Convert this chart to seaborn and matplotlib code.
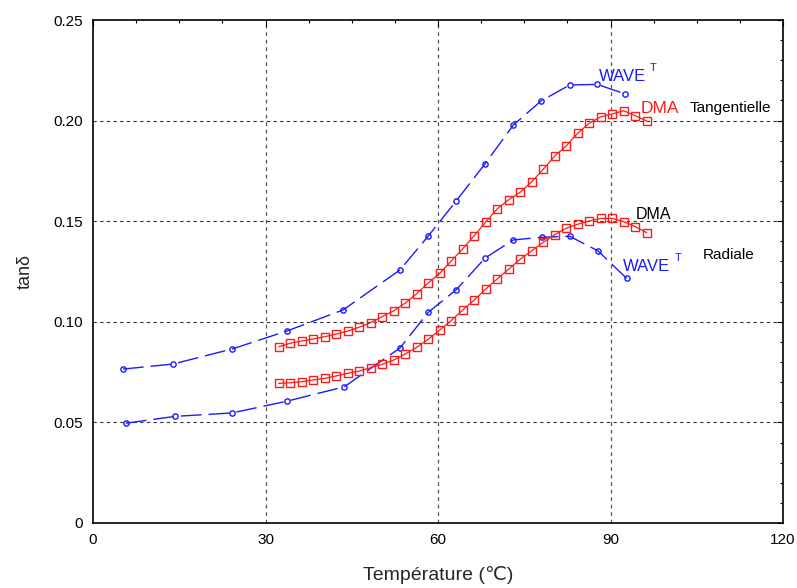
import numpy as np
import pandas as pd
import matplotlib
matplotlib.use("Agg")
import matplotlib.pyplot as plt
from matplotlib.ticker import MultipleLocator
import seaborn as sns

sns.set_theme(style="white")
plt.rcParams["font.family"] = ["Liberation Sans", "DejaVu Sans"]

# ------------------------------------------------------------
# data
# ------------------------------------------------------------
wave_tan_T = [5.2, 13.9, 24.2, 33.7, 43.5, 53.4, 58.3, 63.2, 68.2, 73.1, 77.9, 82.9, 87.7, 92.6]
wave_tan = [0.0765, 0.0790, 0.0865, 0.0954, 0.1059, 0.1258, 0.1426, 0.1602, 0.1786, 0.1978,
            0.2097, 0.2177, 0.2180, 0.2132]

wave_rad_T = [5.7, 14.3, 24.2, 33.8, 43.7, 53.4, 58.3, 63.2, 68.2, 73.1, 78.0, 82.9, 87.8, 92.8]
wave_rad = [0.0496, 0.0530, 0.0547, 0.0606, 0.0677, 0.0870, 0.1047, 0.1160, 0.1317, 0.1407,
            0.1420, 0.1425, 0.1353, 0.1216]

dma_T = [32.3, 34.3, 36.3, 38.3, 40.3, 42.3, 44.3, 46.3, 48.3, 50.3, 52.3, 54.3, 56.3, 58.3,
         60.3, 62.3, 64.3, 66.3, 68.3, 70.3, 72.3, 74.3, 76.3, 78.3, 80.3, 82.3, 84.3, 86.3,
         88.3, 90.3, 92.3, 94.3, 96.3]
dma_tan = [0.0876, 0.0893, 0.0905, 0.0915, 0.0926, 0.0939, 0.0954, 0.0973, 0.0996, 0.1026,
           0.1054, 0.1093, 0.1140, 0.1193, 0.1241, 0.1302, 0.1363, 0.1428, 0.1496, 0.1561,
           0.1607, 0.1644, 0.1696, 0.1758, 0.1824, 0.1874, 0.1937, 0.1987, 0.2019, 0.2033,
           0.2049, 0.2024, 0.1998]
dma_rad = [0.0694, 0.0697, 0.0702, 0.0711, 0.0719, 0.0731, 0.0744, 0.0755, 0.0772, 0.0789,
           0.0810, 0.0840, 0.0873, 0.0913, 0.0959, 0.1006, 0.1059, 0.1108, 0.1163, 0.1213,
           0.1262, 0.1311, 0.1353, 0.1395, 0.1433, 0.1465, 0.1485, 0.1501, 0.1514, 0.1514,
           0.1498, 0.1473, 0.1443]

x_ticks = [0, 30, 60, 90, 120]
y_ticks = [0, 0.05, 0.10, 0.15, 0.20, 0.25]
y_ticklabels = ["0", "0.05", "0.10", "0.15", "0.20", "0.25"]

BLUE = "#1a1aff"
RED = "#ff1a1a"

# ------------------------------------------------------------
# plot
# ------------------------------------------------------------
fig = plt.figure(figsize=(7.97, 5.88), dpi=100)
ax = fig.add_axes([93 / 797, 65 / 588, 690 / 797, 503 / 588])

# grid first so it stays under the curves
for xv in x_ticks[1:-1]:
    ax.axvline(xv, color="#555555", lw=0.9, ls=(0, (3, 3)), zorder=0)
for yv in y_ticks[1:-1]:
    ax.axhline(yv, color="#333333", lw=0.8, ls=(0, (3, 3)), zorder=0)

blue_kw = dict(color=BLUE, lw=1.0, linestyle=(0, (15, 5)), marker="o", markersize=3.8,
               markerfacecolor="none", markeredgecolor=BLUE, markeredgewidth=1.0)
red_kw = dict(color=RED, lw=0.9, marker="s", markersize=5.5,
              markerfacecolor="none", markeredgecolor=RED, markeredgewidth=1.0)

sns.lineplot(x=wave_tan_T, y=wave_tan, ax=ax, sort=False, **blue_kw)
sns.lineplot(x=wave_rad_T, y=wave_rad, ax=ax, sort=False, **blue_kw)
sns.lineplot(x=dma_T, y=dma_tan, ax=ax, sort=False, **red_kw)
sns.lineplot(x=dma_T, y=dma_rad, ax=ax, sort=False, **red_kw)

# labels next to the curves
ax.text(88.0, 0.2218, "WAVE", color=BLUE, fontsize=12, ha="left", va="center")
ax.text(96.8, 0.2262, "T", color=BLUE, fontsize=8, ha="left", va="center")
ax.text(95.2, 0.2061, "DMA", color=RED, fontsize=12.5, ha="left", va="center")
ax.text(103.8, 0.2061, "Tangentielle", color="black", fontsize=11, ha="left", va="center")
ax.text(94.4, 0.1533, "DMA", color="black", fontsize=11.5, ha="left", va="center")
ax.text(106.0, 0.1332, "Radiale", color="black", fontsize=11, ha="left", va="center")
ax.text(92.2, 0.1274, "WAVE", color=BLUE, fontsize=12, ha="left", va="center")
ax.text(101.1, 0.1318, "T", color=BLUE, fontsize=8, ha="left", va="center")

ax.set_xlim(0, 120)
ax.set_ylim(0, 0.25)
ax.set_xticks(x_ticks)
ax.set_xticklabels([str(v) for v in x_ticks])
ax.set_yticks(y_ticks)
ax.set_yticklabels(y_ticklabels)
ax.xaxis.set_minor_locator(MultipleLocator(7.5))
ax.yaxis.set_minor_locator(MultipleLocator(0.01))
ax.tick_params(which="both", direction="in", top=True, right=True, colors="black",
               labelsize=11, pad=7, width=0.8)
ax.tick_params(which="major", length=4)
ax.tick_params(which="minor", length=2.5)
for s in ax.spines.values():
    s.set_visible(True)
    s.set_color("black")
    s.set_linewidth(1.2)

ax.set_xlabel("Température (℃)", fontsize=14, labelpad=14)
ax.set_ylabel("tanδ", fontsize=13, labelpad=14)

fig.savefig("out.png", dpi=100, facecolor="white")
